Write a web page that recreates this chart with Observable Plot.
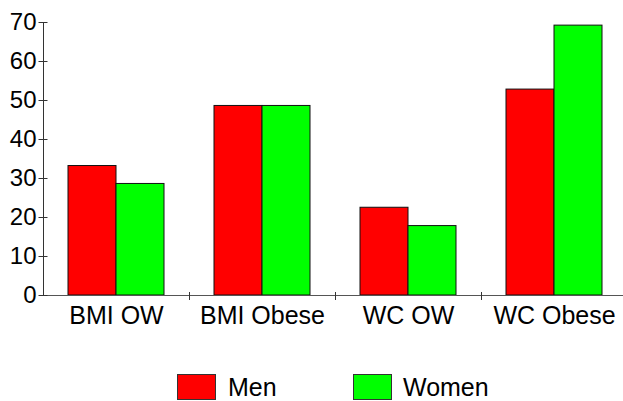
<!DOCTYPE html>
<html>
<head>
<meta charset="utf-8">
<script src="https://cdn.jsdelivr.net/npm/d3@7"></script>
<script src="https://cdn.jsdelivr.net/npm/@observablehq/plot@0.6"></script>
<style>
  html, body { margin: 0; padding: 0; background: #fff; }
  #wrap { position: relative; width: 623px; height: 401px; overflow: hidden; font-family: "Liberation Sans", Arial, sans-serif; }
  .sw { position: absolute; width: 37px; height: 24px; border: 1px solid #333; }
  .lt { position: absolute; font-size: 25px; line-height: 25px; color: #000; }
</style>
</head>
<body>
<div id="wrap"></div>
<script>
const categories = ["BMI OW", "BMI Obese", "WC OW", "WC Obese"];
const seriesNames = ["Men", "Women"];
const men = [33.2, 48.6, 22.5, 52.8];
const women = [28.6, 48.6, 17.8, 69.2];
const yTicks = [0, 10, 20, 30, 40, 50, 60, 70];
const colors = ["#ff0000", "#00ff00"];

const data = [];
categories.forEach((c, i) => {
  data.push({category: c, sex: "Men", value: men[i]});
  data.push({category: c, sex: "Women", value: women[i]});
});

const chart = Plot.plot({
  width: 623,
  height: 345,
  marginLeft: 43,
  marginRight: -4,
  marginTop: 22,
  marginBottom: 50,
  style: {fontFamily: "'Liberation Sans', Arial, sans-serif", background: "#fff"},
  fx: {domain: categories, padding: 0, label: null},
  x: {domain: seriesNames, paddingInner: 0, paddingOuter: 0.52, axis: null, label: null},
  y: {domain: [0, 70], label: null},
  color: {domain: seriesNames, range: colors},
  marks: [
    Plot.barY(data, {fx: "category", x: "sex", y: "value", fill: "sex", stroke: "#111", strokeWidth: 1}),
    Plot.ruleY([0], {stroke: "#555", strokeWidth: 1}),
    Plot.frame({anchor: "left", stroke: "#333", fx: ["BMI OW"]}),
    Plot.axisY({ticks: yTicks, tickSize: 0, tickPadding: 7, fontSize: 24, tickFormat: d3.format("d"), label: null}),
    Plot.axisY({ticks: yTicks, tickSize: 9, dx: 4.5, text: null, stroke: "#333", label: null}),
    Plot.axisFx({anchor: "bottom", tickSize: 0, tickPadding: 11, fontSize: 25, label: null}),
    Plot.axisFx({anchor: "bottom", tickSize: 8, dx: 73, dy: -3, text: null, stroke: "#333", label: null})
  ]
});

const wrap = document.getElementById("wrap");
wrap.appendChild(chart);

const legendPos = [{sw: 177, tx: 228}, {sw: 353, tx: 403}];
seriesNames.forEach((name, i) => {
  const s = document.createElement("div");
  s.className = "sw";
  s.style.left = legendPos[i].sw + "px";
  s.style.top = "374px";
  s.style.background = colors[i];
  wrap.appendChild(s);
  const t = document.createElement("div");
  t.className = "lt";
  t.style.left = legendPos[i].tx + "px";
  t.style.top = "375px";
  t.textContent = name;
  wrap.appendChild(t);
});
</script>
</body>
</html>
